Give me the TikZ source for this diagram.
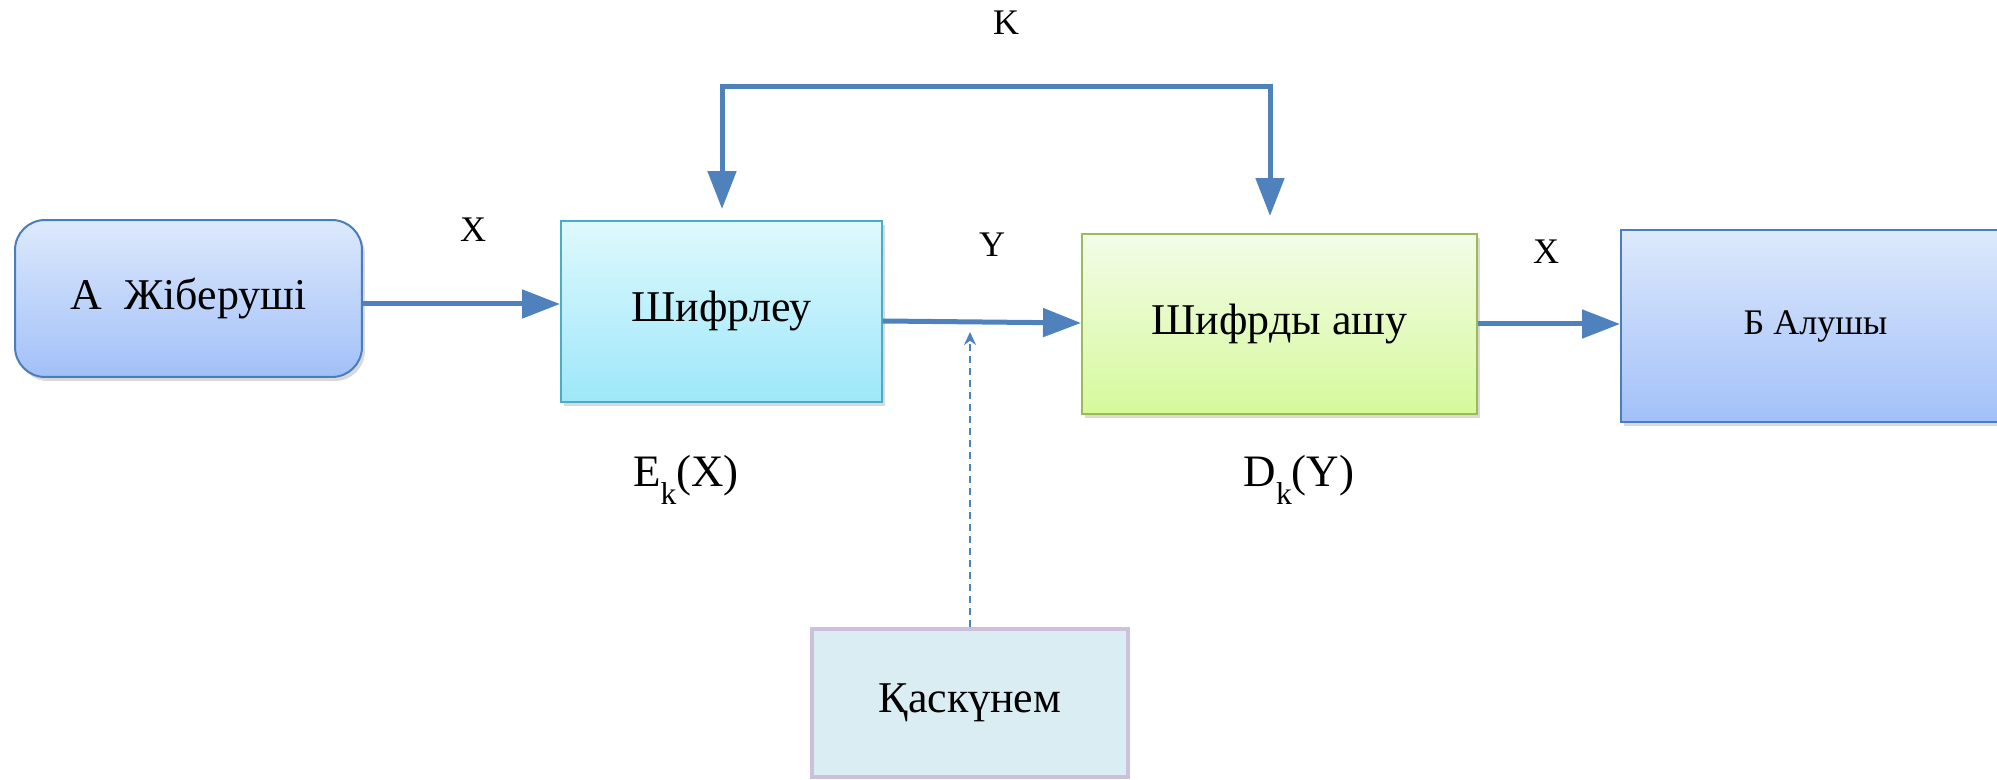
\documentclass[tikz,border=0pt]{standalone}
\usepackage{fontspec}
\setmainfont{Liberation Serif}
\usetikzlibrary{arrows.meta,shadows}
\definecolor{cphArrow}{HTML}{4F81BD}
\definecolor{cphSendTop}{HTML}{DDE9FC}
\definecolor{cphSendBot}{HTML}{A2C0F8}
\definecolor{cphSendLine}{HTML}{4A7EBB}
\definecolor{cphEncTop}{HTML}{DEF9FD}
\definecolor{cphEncBot}{HTML}{9EE7F9}
\definecolor{cphEncLine}{HTML}{4BACC6}
\definecolor{cphDecTop}{HTML}{F3FCE9}
\definecolor{cphDecBot}{HTML}{D6F99B}
\definecolor{cphDecLine}{HTML}{9BBB59}
\definecolor{cphEveFill}{HTML}{DAEDF3}
\definecolor{cphEveLine}{HTML}{CCC0DA}
\newcommand{\keysub}[1]{\raisebox{-10pt}{\fontsize{18}{18}\selectfont #1}}
\tikzset{
  cph box/.style={rectangle, draw, line width=0.04cm, inner sep=0pt, align=center, font=\fontsize{25}{30}\selectfont, drop shadow={opacity=0.3, shadow xshift=0.06cm, shadow yshift=-0.08cm}},
  cph sender/.style={cph box, draw=cphSendLine, top color=cphSendTop, bottom color=cphSendBot, rounded corners=0.6cm},
  cph enc/.style={cph box, draw=cphEncLine, top color=cphEncTop, bottom color=cphEncBot},
  cph dec/.style={cph box, draw=cphDecLine, top color=cphDecTop, bottom color=cphDecBot},
  cph recv/.style={cph box, draw=cphSendLine, top color=cphSendTop, bottom color=cphSendBot, font=\fontsize{20.5}{24}\selectfont},
  cph eve/.style={rectangle, draw=cphEveLine, fill=cphEveFill, line width=0.08cm, inner sep=0pt, font=\fontsize{25}{30}\selectfont},
  cph flow/.style={draw=cphArrow, line width=0.1cm, -{Triangle[width=0.56cm,length=0.76cm]}},
  cph key/.style={cph flow, {Triangle[width=0.56cm,length=0.76cm]}-{Triangle[width=0.56cm,length=0.76cm]}},
  cph tap/.style={draw=cphArrow, line width=0.04cm, dash pattern=on 0.14cm off 0.1cm, -{Stealth[width=0.24cm,length=0.26cm]}},
  cph label/.style={font=\fontsize{20.5}{24}\selectfont},
  cph func/.style={font=\fontsize{25.6}{30}\selectfont},
}

\begin{document}
\begin{tikzpicture}[x=0.02cm, y=-0.02cm]
  \useasboundingbox (0,0) rectangle (1997,780);

  % blocks
  \node[cph sender, minimum width=6.94cm, minimum height=3.14cm] (send) at (188.5,298.5) {А\ \ Жіберуші};
  \node[cph enc, minimum width=6.42cm, minimum height=3.62cm] (enc) at (721.5,311.5) {Шифрлеу};
  \node[cph dec, minimum width=7.90cm, minimum height=3.60cm] (dec) at (1279.5,324) {Шифрды ашу};
  \node[cph recv, minimum width=7.78cm, minimum height=3.84cm] (recv) at (1815.5,326) {Б Алушы};
  \node[cph eve, minimum width=6.32cm, minimum height=2.96cm] (eve) at (970,703) {Қаскүнем};

  % labels
  \node[cph label] (lblK) at (1006,23) {K};
  \node[cph label] (lblX1) at (473,230) {X};
  \node[cph label] (lblY) at (992,245) {Y};
  \node[cph label] (lblX2) at (1546,252) {X};
  \node[cph func] (lblE) at (686,480) {E\keysub{k}(X)};
  \node[cph func] (lblD) at (1299,480) {D\keysub{k}(Y)};

  % key line
  \coordinate (kL) at (722,87);
  \coordinate (kR) at (1270,87);
  \draw[cph key] ([yshift=0.22cm]kL |- enc.north) -- (kL) -- (kR) -- ([yshift=0.34cm]kR |- dec.north);

  % message flow
  \draw[cph flow] ([yshift=-0.11cm]send.east) -- ([yshift=-0.11cm]send.east -| enc.west);
  \draw[cph flow] ([yshift=-0.19cm]enc.east) -- ([yshift=0.02cm]dec.west);
  \draw[cph flow] (dec.east) -- (dec.east -| recv.west);

  % eavesdropper
  \coordinate (tap) at (970,332);
  \draw[cph tap] (eve.north) -- (tap);
\end{tikzpicture}
\end{document}
